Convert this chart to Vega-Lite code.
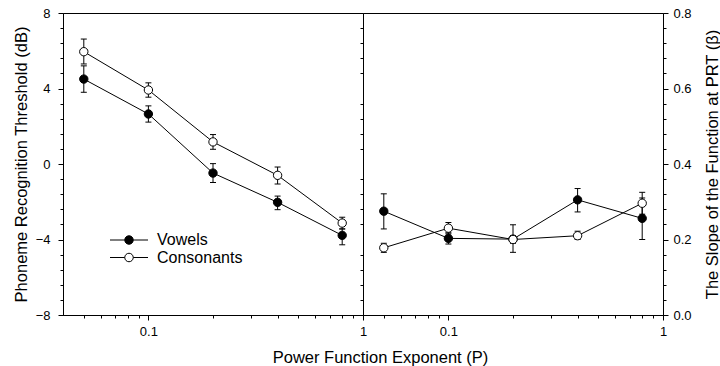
{
  "$schema": "https://vega.github.io/schema/vega-lite/v6.json",
  "padding": {"left": 12, "top": 6, "right": 0, "bottom": 0},
  "bounds": "flush",
  "config": {
    "font": "Liberation Sans",
    "view": {"stroke": "black", "strokeWidth": 1},
    "axis": {"domainColor": "black", "tickColor": "black", "labelColor": "black", "titleColor": "black", "grid": false, "labelFontSize": 13, "titleFontSize": 16.5, "titleFontWeight": "normal", "tickWidth": 1, "domainWidth": 1, "labelFlush": false, "labelOverlap": false}
  },
  "data": {"values": [
    {"P": 0.05, "series": "Vowels", "prt": 4.5, "prt_lo": 3.8, "prt_hi": 5.2, "slope": 0.275, "slope_lo": 0.228, "slope_hi": 0.321},
    {"P": 0.1, "series": "Vowels", "prt": 2.65, "prt_lo": 2.22, "prt_hi": 3.08, "slope": 0.203, "slope_lo": 0.188, "slope_hi": 0.218},
    {"P": 0.2, "series": "Vowels", "prt": -0.48, "prt_lo": -0.98, "prt_hi": 0.02, "slope": 0.201, "slope_lo": 0.166, "slope_hi": 0.239},
    {"P": 0.4, "series": "Vowels", "prt": -2.03, "prt_lo": -2.42, "prt_hi": -1.7, "slope": 0.305, "slope_lo": 0.273, "slope_hi": 0.335},
    {"P": 0.8, "series": "Vowels", "prt": -3.78, "prt_lo": -4.28, "prt_hi": -3.44, "slope": 0.256, "slope_lo": 0.2, "slope_hi": 0.31},
    {"P": 0.05, "series": "Consonants", "prt": 5.95, "prt_lo": 5.3, "prt_hi": 6.62, "slope": 0.178, "slope_lo": 0.166, "slope_hi": 0.19},
    {"P": 0.1, "series": "Consonants", "prt": 3.92, "prt_lo": 3.54, "prt_hi": 4.3, "slope": 0.23, "slope_lo": 0.215, "slope_hi": 0.245},
    {"P": 0.2, "series": "Consonants", "prt": 1.17, "prt_lo": 0.78, "prt_hi": 1.56, "slope": 0.2, "slope_lo": 0.19, "slope_hi": 0.21},
    {"P": 0.4, "series": "Consonants", "prt": -0.6, "prt_lo": -1.06, "prt_hi": -0.16, "slope": 0.21, "slope_lo": 0.2, "slope_hi": 0.222},
    {"P": 0.8, "series": "Consonants", "prt": -3.13, "prt_lo": -3.44, "prt_hi": -2.82, "slope": 0.296, "slope_lo": 0.267, "slope_hi": 0.325}
  ]},
  "spacing": 0,
  "resolve": {"scale": {"fill": "independent"}, "legend": {"fill": "independent"}},
  "hconcat": [
    {
      "width": 300, "height": 302,
      "resolve": {"axis": {"x": "independent", "y": "independent"}},
      "layer": [
        {
          "mark": {"type": "line", "color": "black", "strokeWidth": 1},
          "encoding": {
            "x": {"field": "P", "type": "quantitative", "scale": {"type": "log", "domain": [0.04, 1], "nice": false},
                  "axis": {"orient": "bottom", "values": [0.05, 0.06, 0.07, 0.08, 0.09, 0.2, 0.3, 0.4, 0.5, 0.6, 0.7, 0.8, 0.9], "labels": false, "domain": false, "tickSize": 3, "title": null}},
            "y": {"field": "prt", "type": "quantitative", "scale": {"domain": [-8, 8], "nice": false},
                  "axis": {"orient": "left", "values": [-7.2, -6.4, -5.6, -4.8, -3.2, -2.4, -1.6, -0.8, 0.8, 1.6, 2.4, 3.2, 4.8, 5.6, 6.4, 7.2], "labels": false, "domain": false, "tickSize": 3, "title": null}},
            "detail": {"field": "series", "type": "nominal"}
          }
        },
        {
          "mark": {"type": "rule", "color": "black", "strokeWidth": 1},
          "encoding": {
            "x": {"field": "P", "type": "quantitative", "scale": {"type": "log", "domain": [0.04, 1], "nice": false}, "axis": null},
            "y": {"field": "prt_lo", "type": "quantitative", "scale": {"domain": [-8, 8], "nice": false}, "axis": null},
            "y2": {"field": "prt_hi"}
          }
        },
        {
          "mark": {"type": "tick", "orient": "horizontal", "color": "black", "size": 6, "thickness": 1, "opacity": 1},
          "encoding": {
            "x": {"field": "P", "type": "quantitative", "scale": {"type": "log", "domain": [0.04, 1], "nice": false}, "axis": null},
            "y": {"field": "prt_lo", "type": "quantitative", "scale": {"domain": [-8, 8], "nice": false}, "axis": null}
          }
        },
        {
          "mark": {"type": "tick", "orient": "horizontal", "color": "black", "size": 6, "thickness": 1, "opacity": 1},
          "encoding": {
            "x": {"field": "P", "type": "quantitative", "scale": {"type": "log", "domain": [0.04, 1], "nice": false}, "axis": null},
            "y": {"field": "prt_hi", "type": "quantitative", "scale": {"domain": [-8, 8], "nice": false}, "axis": null}
          }
        },
        {
          "mark": {"type": "point", "shape": "circle", "filled": true, "size": 70, "stroke": "black", "strokeWidth": 1, "opacity": 1},
          "encoding": {
            "x": {"field": "P", "type": "quantitative", "scale": {"type": "log", "domain": [0.04, 1], "nice": false},
                  "axis": {"orient": "bottom", "values": [0.1, 1], "format": "~g", "tickSize": 5, "labelPadding": 5, "title": "Power Function Exponent  (P)", "titleX": 317, "titleY": 47, "titleBaseline": "alphabetic", "titleAlign": "center"}},
            "y": {"field": "prt", "type": "quantitative", "scale": {"domain": [-8, 8], "nice": false},
                  "axis": {"orient": "left", "values": [-8, -4, 0, 4, 8], "tickSize": 5, "labelPadding": 8, "title": "Phoneme Recognition Threshold (dB)", "titleAngle": 270, "titleX": -42, "titleY": 151, "titleBaseline": "middle", "titleAlign": "center"}},
            "fill": {"field": "series", "type": "nominal", "scale": {"domain": ["Vowels", "Consonants"], "range": ["black", "white"]},
                     "legend": {"orient": "none", "legendX": 58, "legendY": 219, "title": null, "symbolType": "M-3.8,0L-0.85,0M0.85,0L3.8,0M-0.85,0A0.85,0.85,0,1,1,0.85,0A0.85,0.85,0,1,1,-0.85,0Z", "symbolSize": 100, "symbolStrokeColor": "black", "symbolStrokeWidth": 1, "labelFontSize": 16, "labelOffset": 20, "rowPadding": 1.5, "padding": 0, "labelColor": "black"}}
          }
        }
      ]
    },
    {
      "width": 300, "height": 302,
      "resolve": {"axis": {"x": "independent", "y": "independent"}},
      "layer": [
        {
          "mark": {"type": "line", "color": "black", "strokeWidth": 1},
          "encoding": {
            "x": {"field": "P", "type": "quantitative", "scale": {"type": "log", "domain": [0.04, 1], "nice": false},
                  "axis": {"orient": "bottom", "values": [0.05, 0.06, 0.07, 0.08, 0.09, 0.2, 0.3, 0.4, 0.5, 0.6, 0.7, 0.8, 0.9], "labels": false, "domain": false, "tickSize": 3, "title": null}},
            "y": {"field": "slope", "type": "quantitative", "scale": {"domain": [0, 0.8], "nice": false},
                  "axis": {"orient": "left", "values": [0.04, 0.08, 0.12, 0.16, 0.24, 0.28, 0.32, 0.36, 0.44, 0.48, 0.52, 0.56, 0.64, 0.68, 0.72, 0.76], "labels": false, "domain": false, "tickSize": 3, "title": null}},
            "detail": {"field": "series", "type": "nominal"}
          }
        },
        {
          "mark": {"type": "rule", "color": "black", "strokeWidth": 1},
          "encoding": {
            "x": {"field": "P", "type": "quantitative", "scale": {"type": "log", "domain": [0.04, 1], "nice": false}, "axis": null},
            "y": {"field": "slope_lo", "type": "quantitative", "scale": {"domain": [0, 0.8], "nice": false},
                  "axis": {"orient": "right", "values": [0.04, 0.08, 0.12, 0.16, 0.24, 0.28, 0.32, 0.36, 0.44, 0.48, 0.52, 0.56, 0.64, 0.68, 0.72, 0.76], "labels": false, "domain": false, "tickSize": 3, "title": null}},
            "y2": {"field": "slope_hi"}
          }
        },
        {
          "mark": {"type": "tick", "orient": "horizontal", "color": "black", "size": 6, "thickness": 1, "opacity": 1},
          "encoding": {
            "x": {"field": "P", "type": "quantitative", "scale": {"type": "log", "domain": [0.04, 1], "nice": false}, "axis": null},
            "y": {"field": "slope_lo", "type": "quantitative", "scale": {"domain": [0, 0.8], "nice": false}, "axis": null}
          }
        },
        {
          "mark": {"type": "tick", "orient": "horizontal", "color": "black", "size": 6, "thickness": 1, "opacity": 1},
          "encoding": {
            "x": {"field": "P", "type": "quantitative", "scale": {"type": "log", "domain": [0.04, 1], "nice": false}, "axis": null},
            "y": {"field": "slope_hi", "type": "quantitative", "scale": {"domain": [0, 0.8], "nice": false}, "axis": null}
          }
        },
        {
          "mark": {"type": "point", "shape": "circle", "filled": true, "size": 70, "stroke": "black", "strokeWidth": 1, "opacity": 1},
          "encoding": {
            "x": {"field": "P", "type": "quantitative", "scale": {"type": "log", "domain": [0.04, 1], "nice": false},
                  "axis": {"orient": "bottom", "values": [0.1, 1], "format": "~g", "tickSize": 5, "labelPadding": 5, "title": null}},
            "y": {"field": "slope", "type": "quantitative", "scale": {"domain": [0, 0.8], "nice": false},
                  "axis": {"orient": "right", "values": [0, 0.2, 0.4, 0.6, 0.8], "format": ".1f", "tickSize": 5, "labelPadding": 5, "title": "The Slope of the Function at PRT (β)", "titleAngle": 270, "titleX": 49, "titleY": 151, "titleBaseline": "middle", "titleAlign": "center"}},
            "fill": {"field": "series", "type": "nominal", "scale": {"domain": ["Vowels", "Consonants"], "range": ["black", "white"]}, "legend": null}
          }
        }
      ]
    }
  ]
}
